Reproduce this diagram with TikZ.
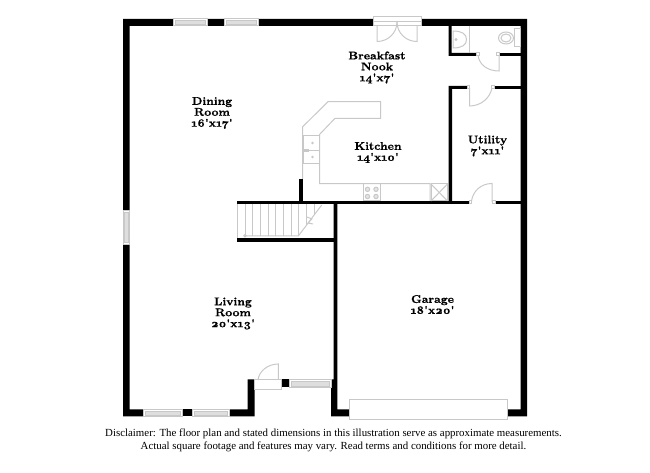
\documentclass[tikz,border=0pt]{standalone}
\usepackage{xcolor}
\usepackage{fontspec}
\setmainfont{Liberation Serif}
\newfontfamily\labelfont{Latin Modern Roman}[Numbers=OldStyle,BoldFeatures={FakeBold=0.7}]
\definecolor{fixturegray}{RGB}{200,200,200}
\definecolor{glassgray}{RGB}{222,222,222}
\tikzset{
  wall/.style={fill=black,draw=none},
  fixture/.style={draw=fixturegray,line width=0.75pt},
  framebox/.style={draw=fixturegray,line width=0.75pt,fill=white},
  glass/.style={draw=fixturegray,line width=0.5pt,fill=glassgray},
  roomlabel/.style={align=center,inner sep=0pt,font=\labelfont\bfseries\fontsize{8.4}{8.2}\selectfont},
  notetext/.style={align=center,inner sep=0pt,font=\fontsize{8.15}{9.8}\selectfont}
}

\begin{document}
\begin{tikzpicture}[x=0.75pt,y=0.75pt,yscale=-1,xscale=1]
\useasboundingbox (0,0) rectangle (650,473);

%Shape: outer walls
\draw [wall] (123,19) -- (373,19) -- (373,26) -- (129.5,26) -- (129.5,409.5) -- (143,409.5) -- (143,416.5) -- (123,416.5) -- cycle ;
\draw [wall] (421,19) -- (527,19) -- (527,416.5) -- (507,416.5) -- (507,409.5) -- (520.5,409.5) -- (520.5,26) -- (421,26) -- cycle ;
%Shape: bottom wall pieces
\draw [wall] (182.5,409.5) rectangle (192,416.5) ;
\draw [wall] (229,409.5) -- (247.7,409.5) -- (247.7,379.5) -- (254.7,379.5) -- (254.7,416.5) -- (229,416.5) -- cycle ;
\draw [wall] (281.7,379.5) rectangle (289.3,386.8) ;
\draw [wall] (333.5,204) -- (337.3,204) -- (337.3,409.5) -- (349,409.5) -- (349,416.5) -- (331,416.5) -- (331,379.5) -- (333.5,379.5) -- cycle ;
%Shape: inner walls
\draw [wall] (237,200.8) -- (469,200.8) -- (469,204.3) -- (237,204.3) -- cycle ;
\draw [wall] (495,200.8) rectangle (520.5,204.3) ;
\draw [wall] (237,238) rectangle (337,241.7) ;
\draw [wall] (299,179) rectangle (302.7,201) ;
\draw [wall] (448.6,86) -- (467,86) -- (467,88.8) -- (452,88.8) -- (452,201) -- (448.6,201) -- cycle ;
\draw [wall] (494,86) rectangle (520.5,88.8) ;
\draw [wall] (448.7,26) -- (451.5,26) -- (451.5,53) -- (476.7,53) -- (476.7,55.8) -- (448.7,55.8) -- cycle ;
\draw [wall] (499,53) rectangle (520.5,55.8) ;

%Shape: top windows
\draw [framebox] (173,19) rectangle (207,26) ;
\draw [glass] (175,20.5) rectangle (205,24.5) ;
\draw [framebox] (224,19) rectangle (258,26) ;
\draw [glass] (226,20.5) rectangle (256,24.5) ;
%Shape: left window
\draw [framebox] (123,210.7) rectangle (129.5,244.3) ;
\draw [glass] (124.6,212.7) rectangle (127.9,242.3) ;
%Shape: bottom windows
\draw [framebox] (143,409.5) rectangle (182.5,416.5) ;
\draw [glass] (145,411) rectangle (180.5,415) ;
\draw [framebox] (192,409.5) rectangle (229,416.5) ;
\draw [glass] (194,411) rectangle (227,415) ;
\draw [framebox] (289.3,379.5) rectangle (331,387.5) ;
\draw [glass] (291.3,381) rectangle (329,386) ;
%Shape: garage door
\draw [framebox] (349.3,399.3) rectangle (507.5,419.5) ;

%Shape: french doors
\draw [framebox] (373,17) rectangle (421,26) ;
\draw [fixture] (373,22) -- (421,22) ;
\draw [fixture] (377,26) -- (377,41.5) .. controls (388,41.5) and (397,33) .. (397,22) ;
\draw [fixture] (417,26) -- (417,41.5) .. controls (406,41.5) and (397,33) .. (397,22) ;
%Shape: bath door
\draw [fixture] (499,55) -- (499,71) .. controls (488,71) and (479,65) .. (478,55) ;
\draw [framebox] (476.7,52.8) rectangle (479.5,56) ;
\draw [framebox] (496.5,52.8) rectangle (499.3,56) ;
%Shape: utility top door
\draw [fixture] (469.5,88) -- (469.5,106) .. controls (481,106) and (490,98) .. (492,88) ;
\draw [framebox] (467,85.8) rectangle (469.8,89) ;
\draw [framebox] (491.3,85.8) rectangle (494,89) ;
%Shape: utility bottom door
\draw [fixture] (492,202) -- (492,183.5) .. controls (481,183.5) and (473,191) .. (471.5,201) ;
\draw [framebox] (469,200.7) rectangle (471.8,204) ;
\draw [framebox] (492,200.7) rectangle (495,204) ;
%Shape: entry door
\draw [framebox] (254.7,379.5) rectangle (281.7,389.5) ;
\draw [fixture] (278.3,380) -- (278.3,364) .. controls (268,364) and (259,371) .. (258,380) ;

%Shape: bath fixtures
\draw [fixture] (469,26) -- (469,53) ;
\draw [fixture] (453,31) .. controls (462,31) and (466.5,34) .. (466.5,39.5) .. controls (466.5,45) and (462,48) .. (453,48) -- cycle ;
\draw [fixture,fill=fixturegray] (456,39.5) circle [radius=1] ;
\draw [fixture] (514,29) rectangle (520.5,47) ;
\draw [fixture] (506,38) ellipse [x radius=7.5, y radius=6] ;
\draw [fixture] (506,38) ellipse [x radius=5, y radius=4] ;

%Shape: kitchen counter
\draw [fixture] (302.7,179) -- (302.7,126.7) -- (328,101.7) -- (380.7,101.7) -- (380.7,118.3) -- (335,118.3) -- (319.7,134.3) -- (319.7,183.7) -- (430,183.7) -- (430,201) ;
%Shape: kitchen sink
\draw [fixture] (303,135.7) rectangle (319.5,164) ;
\draw [fixture] (303,150.5) -- (319.5,150.5) ;
\draw [fixture] (303,149.5) -- (309,149.5) (303,151.5) -- (309,151.5) ;
\draw [fixture,fill=fixturegray] (312.5,143) circle [radius=0.6] ;
\draw [fixture,fill=fixturegray] (312.5,157) circle [radius=0.6] ;
%Shape: stove
\draw [fixture] (363.3,183.7) rectangle (380.7,201) ;
\draw [fixture,fill=fixturegray!50] (367.5,189.3) circle [radius=2.2] ;
\draw [fixture,fill=fixturegray!50] (376,189.3) circle [radius=2.2] ;
\draw [fixture,fill=fixturegray!50] (367.5,196.5) circle [radius=2.2] ;
\draw [fixture,fill=fixturegray!50] (376,196.5) circle [radius=2.2] ;
%Shape: fridge
\draw [fixture] (431,184) rectangle (447.5,201) ;
\draw [fixture] (431,184) -- (447.5,201) (447.5,184) -- (431,201) ;

%Straight Lines: stair treads
\draw [fixture] (237.5,204) -- (237.5,238) ;
\draw [fixture] (245,204) -- (245,236) ;
\draw [fixture] (252.7,204) -- (252.7,236) ;
\draw [fixture] (260.3,204) -- (260.3,236) ;
\draw [fixture] (268,204) -- (268,236) ;
\draw [fixture] (275.7,204) -- (275.7,236) ;
\draw [fixture] (283.3,204) -- (283.3,236) ;
\draw [fixture] (291,204) -- (291,236) ;
\draw [fixture] (298.5,204) -- (298.5,236) ;
\draw [fixture] (306.5,204) -- (306.5,225) ;
\draw [fixture] (314,204) -- (314,215) ;
%Straight Lines: stair rail
\draw [fixture] (245,235.8) -- (298.5,235.8) -- (321.7,205) ;
\draw [fixture] (245,235.8) circle [radius=1.2] ;
\draw [fixture] (307,217) -- (312,219) -- (308,223) -- (313,224) ;

% Text Node
\node [roomlabel] (diningroom) at (212,113) {Dining\\Room\\16'x17'};
% Text Node
\node [roomlabel] (breakfastnook) at (377,67.5) {Breakfast\\Nook\\14'x7'};
% Text Node
\node [roomlabel] (kitchen) at (378,152.5) {Kitchen\\14'x10'};
% Text Node
\node [roomlabel] (utility) at (487.5,146) {Utility\\7'x11'};
% Text Node
\node [roomlabel] (livingroom) at (233,313.5) {Living\\Room\\20'x13'};
% Text Node
\node [roomlabel] (garage) at (432.5,304.5) {Garage\\18'x20'};
% Text Node
\node [notetext] (disclaimer) at (333.5,440) {Disclaimer: The floor plan and stated dimensions in this illustration serve as approximate measurements.\\Actual square footage and features may vary. Read terms and conditions for more detail.};
\end{tikzpicture}
\end{document}
